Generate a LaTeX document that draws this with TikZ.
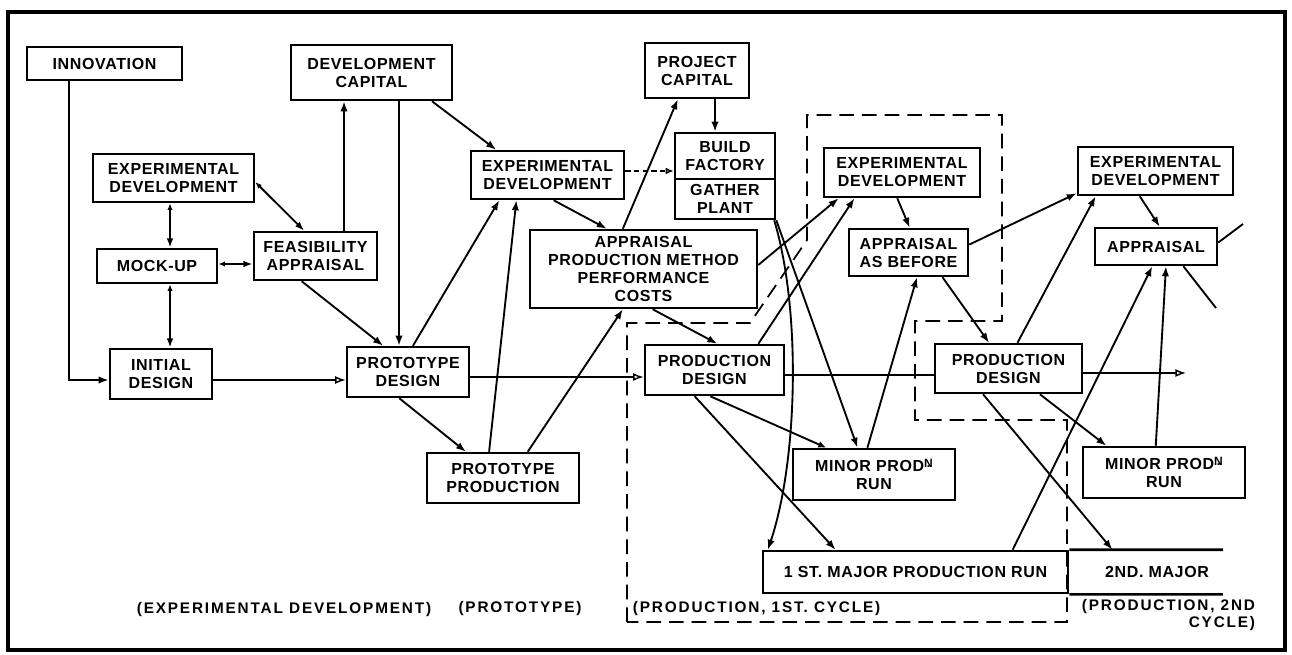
\documentclass[tikz,border=0pt]{standalone}
\usepackage{fontspec}
\setmainfont{Liberation Sans}[LetterSpace=4]
\usetikzlibrary{arrows.meta,calc}

\tikzset{every picture/.style={line width=1.4pt}}
\tikzset{
  blok/.style={draw, line width=1.9pt, align=center, inner sep=1pt, font=\fontsize{12}{13.5}\bfseries},
  sz/.style 2 args={minimum width=#1*0.75pt, minimum height=#2*0.75pt},
  arr/.style={-{Latex[length=7.5pt,width=5.5pt]}},
  osm/.style={-{Latex[open,length=6pt,width=5pt]}},
  oarr/.style={-{Latex[open,length=8pt,width=6pt]}, line width=1.1pt},
  darr/.style={arrows={Latex[length=5pt,width=4pt]-Latex[length=7pt,width=5pt]}},
  zone/.style={dash pattern=on 11pt off 6pt, line width=1.3pt},
  lbl/.style={font=\fontsize{11.5}{13}\bfseries\addfontfeatures{LetterSpace=12}, inner sep=0pt},
}
% points on the sides of a box
\newcommand{\atN}[2]{($(#1.north west)!#2!(#1.north east)$)}
\newcommand{\atS}[2]{($(#1.south west)!#2!(#1.south east)$)}
\newcommand{\atE}[2]{($(#1.north east)!#2!(#1.south east)$)}
\newcommand{\atW}[2]{($(#1.north west)!#2!(#1.south west)$)}
\newcommand{\supN}{\raisebox{3.5pt}{\small\shortstack{N\\[-4.5pt].}}}

\begin{document}
\begin{tikzpicture}[x=0.75pt,y=0.75pt,yscale=-1,xscale=1]
\useasboundingbox (0,0) rectangle (1292,654);

%Frame
\draw [line width=2.6pt] (8,12) rectangle (1285,650);

%Dashed zone: production, 1st cycle
\draw [zone] (627,622) -- (627,323) -- (750,323) -- (807,240) -- (807,115) -- (1002,115) -- (1002,321) -- (915,321) -- (915,420) -- (1067,420) -- (1067,622) -- cycle ;

%Boxes
\node [blok, sz={155}{33}] (innov) at (104.5,63.5) {INNOVATION};
\node [blok, sz={161}{55}] (devcap) at (371.5,72.5) {DEVELOPMENT\\CAPITAL};
\node [blok, sz={161}{48}] (expL) at (173.5,178) {EXPERIMENTAL\\DEVELOPMENT};
\node [blok, sz={120}{34}] (mock) at (157,266) {MOCK-UP};
\node [blok, sz={123}{48}] (feas) at (315.5,256) {FEASIBILITY\\APPRAISAL};
\node [blok, sz={102}{50}] (init) at (161,374) {INITIAL\\DESIGN};
\node [blok, sz={122}{50}] (pdes) at (408,372) {PROTOTYPE\\DESIGN};
\node [blok, sz={152}{50}] (pprod) at (503,478) {PROTOTYPE\\PRODUCTION};
\node [blok, sz={153}{48}] (expM) at (547.5,175) {EXPERIMENTAL\\DEVELOPMENT};
\node [blok, sz={104}{55}] (projcap) at (697,70.5) {PROJECT\\CAPITAL};
\node [blok, sz={100}{46}] (build) at (725,156) {BUILD\\FACTORY};
\node [blok, sz={100}{40}] (gather) at (725,199) {GATHER\\PLANT};
\node [blok, sz={227}{78}] (appr) at (643.5,269) {APPRAISAL\\PRODUCTION METHOD\\PERFORMANCE\\COSTS};
\node [blok, sz={139}{50}] (prodA) at (714.5,370) {PRODUCTION\\DESIGN};
\node [blok, sz={162}{51}] (minorA) at (874,474.5) {MINOR PROD\supN\\RUN};
\node [blok, sz={305}{42}] (majorA) at (915.5,572) {1 ST. MAJOR PRODUCTION RUN};
\node [blok, sz={156}{49}] (expA) at (902,172.5) {EXPERIMENTAL\\DEVELOPMENT};
\node [blok, sz={119}{47}] (asbef) at (908.5,252.5) {APPRAISAL\\AS BEFORE};
\node [blok, sz={155}{48}] (expB) at (1155.5,171) {EXPERIMENTAL\\DEVELOPMENT};
\node [blok, sz={122}{37}] (apprR) at (1156,246.5) {APPRAISAL};
\node [blok, sz={147}{49}] (prodB) at (1008.5,368.5) {PRODUCTION\\DESIGN};
\node [blok, sz={162}{51}] (minorB) at (1164,472.5) {MINOR PROD\supN\\RUN};
\node [blok, draw=none, sz={178}{42}] (majorB) at (1157,572) {2ND. MAJOR};
\draw [line width=1.9pt] (majorA.north east) -- \atN{majorB}{.865} ;
\draw [line width=1.9pt] (majorA.south east) -- \atS{majorB}{.865} ;

%Helper coordinates
\coordinate (ix) at (69,0);
\coordinate (mx) at (170,0);
\coordinate (my) at (0,264);
\coordinate (fx) at (344,0);
\coordinate (dx) at (399,0);
\coordinate (px) at (715,0);
\coordinate (ey) at (0,171);
\coordinate (ml1) at (0,380);
\coordinate (ml2) at (0,377);
\coordinate (ml3) at (0,375);
\coordinate (ml4) at (0,373);
\coordinate (endB) at (1186,373);
\coordinate (outA) at (1243,224);
\coordinate (outB) at (1216,308);

%Experimental development
\draw [arr] (innov.south -| ix) |- (init.west |- ml1) ;
\draw [darr] (expL.south -| mx) -- (mock.north -| mx) ;
\draw [darr] (mock.south -| mx) -- (init.north -| mx) ;
\draw [darr] (mock.east |- my) -- (feas.west |- my) ;
\draw [darr] \atE{expL}{.58} -- \atN{feas}{.41} ;
\draw [arr] (feas.north -| fx) -- (devcap.south -| fx) ;
\draw [arr] (devcap.south -| dx) -- (pdes.north -| dx) ;
\draw [arr] \atS{devcap}{.87} -- \atN{expM}{.17} ;
\draw [arr] \atS{feas}{.39} -- \atN{pdes}{.30} ;
\draw [oarr] (init.east |- ml1) -- (pdes.west |- ml1) ;

%Prototype
\draw [arr] \atN{pdes}{.54} -- \atS{expM}{.19} ;
\draw [arr] \atN{pprod}{.41} -- \atS{expM}{.30} ;
\draw [arr] \atS{pdes}{.43} -- \atN{pprod}{.26} ;
\draw [oarr] (pdes.east |- ml2) -- (prodA.west |- ml2) ;
\draw [arr] \atN{pprod}{.66} -- \atS{appr}{.41} ;
\draw [arr] \atS{expM}{.54} -- \atN{appr}{.34} ;
\draw [arr] \atN{appr}{.41} -- \atS{projcap}{.32} ;
\draw [arr] (projcap.south -| px) -- (build.north -| px) ;
\draw [osm, line width=1.1pt, dash pattern=on 4pt off 2.5pt] (expM.east |- ey) -- (build.west |- ey) ;

%Production, 1st cycle
\draw [arr] \atS{appr}{.54} -- \atN{prodA}{.52} ;
\draw [arr] \atE{appr}{.45} -- \atS{expA}{.10} ;
\draw [arr] \atN{prodA}{.81} -- \atS{expA}{.20} ;
\draw [arr] \atS{gather}{.98} .. controls +(27,90) and +(30,-90) .. \atN{majorA}{.02} ;
\draw [arr] (gather.south east) -- \atN{minorA}{.40} ;
\draw [arr] \atN{minorA}{.46} -- \atS{asbef}{.57} ;
\draw [osm] \atS{prodA}{.47} -- \atN{minorA}{.21} ;
\draw [arr] \atS{prodA}{.36} -- \atN{majorA}{.24} ;
\draw [arr] \atS{expA}{.47} -- \atN{asbef}{.51} ;
\draw [arr] \atE{asbef}{.34} -- \atW{expB}{.94} ;
\draw [arr] \atS{asbef}{.78} -- \atN{prodB}{.37} ;
\draw [line width=1.1pt] (prodA.east |- ml3) -- (prodB.west |- ml3) ;

%Production, 2nd cycle
\draw [arr] \atN{prodB}{.56} -- \atS{expB}{.12} ;
\draw [oarr] (prodB.east |- ml4) -- (endB) ;
\draw [arr] \atS{expB}{.40} -- \atN{apprR}{.53} ;
\draw \atE{apprR}{.40} -- (outA) ;
\draw \atS{apprR}{.72} -- (outB) ;
\draw [arr] \atS{prodB}{.71} -- \atN{minorB}{.15} ;
\draw [arr] \atS{prodB}{.33} -- \atN{majorB}{.253} ;
\draw [arr] \atN{majorA}{.816} -- \atS{apprR}{.47} ;
\draw [arr] \atN{minorB}{.45} -- \atS{apprR}{.58} ;

% Text Node
\node [lbl] (lexp) at (284,610) {(EXPERIMENTAL DEVELOPMENT)};
% Text Node
\node [lbl] (lproto) at (520,609) {(PROTOTYPE)};
% Text Node
\node [lbl, anchor=west] (lcycA) at (632,609) {(PRODUCTION, 1ST. CYCLE)};
% Text Node
\node [lbl, anchor=east, align=right] (lcycB) at (1256,615) {(PRODUCTION, 2ND\\CYCLE)};

\end{tikzpicture}
\end{document}
